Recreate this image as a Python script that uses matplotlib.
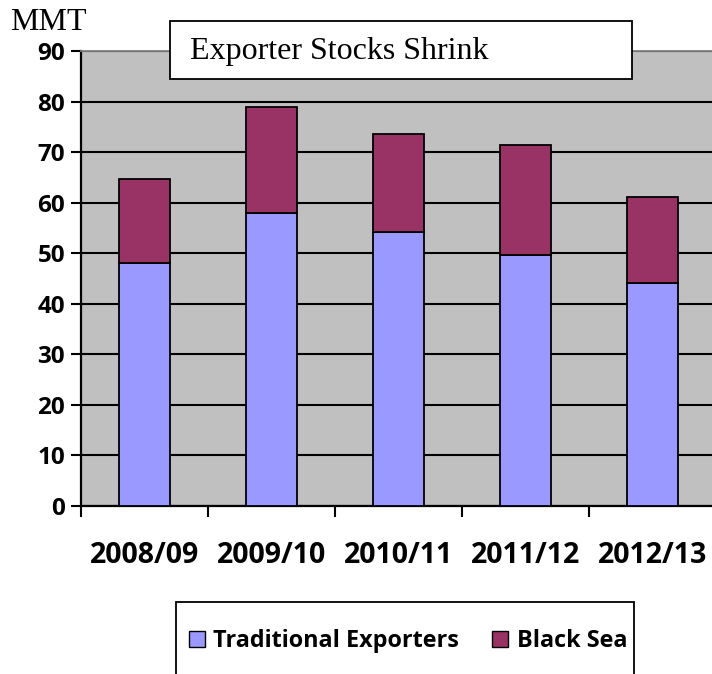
import numpy as np
import matplotlib
matplotlib.use("Agg")
import matplotlib.pyplot as plt
from matplotlib.patches import Rectangle, Patch

years = ["2008/09", "2009/10", "2010/11", "2011/12", "2012/13"]
traditional = [48.1, 58.0, 54.1, 49.7, 44.2]
black_sea = [16.6, 21.0, 19.4, 21.8, 17.0]
yticks = [0, 10, 20, 30, 40, 50, 60, 70, 80, 90]

BLUE = "#9999FF"
MAROON = "#993366"
GRAY = "#C0C0C0"
SANS = "Open Sans"
SERIF = "Liberation Serif"

W, H = 712, 674
fig = plt.figure(figsize=(W / 100, H / 100), dpi=100)

# axes in pixel terms: left 81, right 716, top 51, bottom 506
ax = fig.add_axes([81 / W, 1 - 506 / H, (716 - 81) / W, (506 - 51) / H])
ax.set_facecolor(GRAY)

x = np.arange(len(years))
ax.bar(x, traditional, width=0.4, color=BLUE, edgecolor="black", lw=1.3, zorder=3)
ax.bar(x, black_sea, width=0.4, bottom=traditional, color=MAROON,
       edgecolor="black", lw=1.3, zorder=3)

ax.set_xlim(-0.5, len(years) - 0.5)
ax.set_ylim(0, 90)
ax.set_yticks(yticks)
ax.set_yticklabels([str(v) for v in yticks], fontfamily=SANS,
                   fontweight="bold", fontsize=17.5)
ax.yaxis.grid(True, color="black", lw=1.5, zorder=1)
ax.set_axisbelow(True)
ax.tick_params(axis="y", length=7.5, width=1.5, pad=4)

# category ticks sit between the bars, labels centred under them
ax.set_xticks(np.arange(len(years) + 1) - 0.5)
ax.set_xticklabels([])
ax.set_xticks(x, minor=True)
ax.set_xticklabels(years, minor=True, fontfamily=SANS, fontweight="bold", fontsize=20.5)
ax.tick_params(axis="x", which="major", length=8, width=1.5)
ax.tick_params(axis="x", which="minor", length=0, pad=25)

for s in ("left", "bottom"):
    ax.spines[s].set_linewidth(1.6)
    ax.spines[s].set_color("black")
ax.spines["top"].set_color("#808080")
ax.spines["top"].set_linewidth(1.3)
ax.spines["right"].set_visible(False)

# y unit label
fig.text(10 / W, 1 - 23 / H, "MMT", fontfamily=SERIF, fontsize=23,
         ha="left", va="center")

# title box
fig.patches.append(Rectangle((170 / W, 1 - 79 / H), (632 - 170) / W, (79 - 21) / H,
                             transform=fig.transFigure, facecolor="white",
                             edgecolor="black", lw=1.3, zorder=5))
fig.text(190 / W, 1 - 51 / H, "Exporter Stocks Shrink", fontfamily=SERIF,
         fontsize=23, ha="left", va="center", zorder=6)

# legend box, its bottom runs off the image
fig.patches.append(Rectangle((176 / W, -0.05), (634 - 176) / W, 1 - 602 / H + 0.05,
                             transform=fig.transFigure, facecolor="white",
                             edgecolor="black", lw=1.3, zorder=5, clip_on=False))
handles = [Patch(facecolor=BLUE, edgecolor="black", lw=1.0),
           Patch(facecolor=MAROON, edgecolor="black", lw=1.0)]
leg = fig.legend(handles, ["Traditional Exporters", "Black Sea"], ncol=2,
                 loc="center", bbox_to_anchor=(408 / W, 1 - 641 / H),
                 frameon=False, handlelength=0.7, handleheight=0.7,
                 handletextpad=0.35, columnspacing=1.4,
                 prop={"family": SANS, "weight": "bold", "size": 16.8})
leg.set_zorder(6)

fig.savefig("out.png", dpi=100)
